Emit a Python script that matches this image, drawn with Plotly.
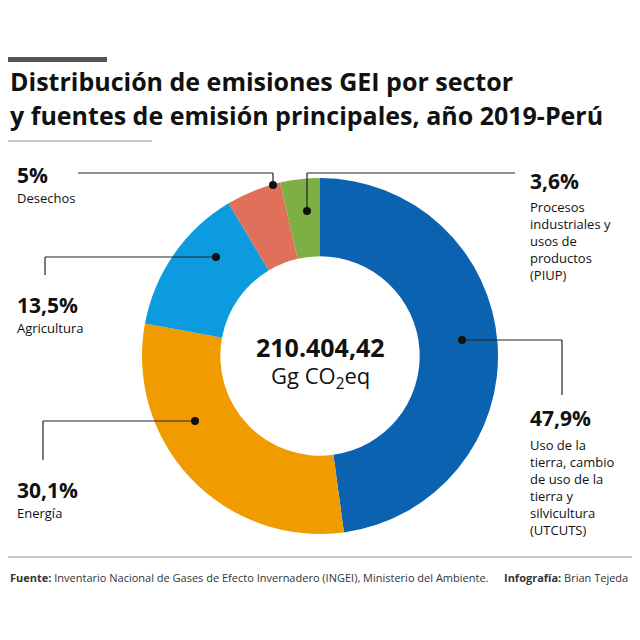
import plotly.graph_objects as go

sectores = ["UTCUTS", "Energía", "Agricultura", "Desechos", "PIUP"]
porcentajes = [47.9, 30.1, 13.5, 5.0, 3.6]
colores = ["#0a62b0", "#f09c00", "#0d9be0", "#e0705a", "#7eaf45"]
total_txt = "210.404,42"

W = H = 640
OFF = 8  # page body margin offset in the screenshot


def px(x):
    return (x - OFF) / W


def py(y):
    return 1 - (y - OFF) / H


fig = go.Figure(go.Pie(
    labels=sectores, values=porcentajes, hole=0.56, sort=False,
    direction="clockwise", rotation=0,
    marker=dict(colors=colores, line=dict(color="white", width=0)),
    textinfo="none", hoverinfo="label+percent", showlegend=False,
    domain=dict(x=[px(142), px(498)], y=[py(534), py(178)]),
))

shapes = []
line = dict(color="#222", width=1.2)
shapes.append(dict(type="rect", xref="paper", yref="paper", x0=0, x1=px(107),
                   y0=py(62), y1=py(57), fillcolor="#555", line_width=0))
shapes.append(dict(type="line", xref="paper", yref="paper", x0=0, x1=px(152),
                   y0=py(141), y1=py(141), line=dict(color="#999", width=1)))
shapes.append(dict(type="line", xref="paper", yref="paper", x0=0, x1=1,
                   y0=py(557), y1=py(557), line=dict(color="#999", width=1)))

leaders = [
    [(78, 173), (273, 173), (273, 185)],
    [(515, 173), (307, 173), (307, 211)],
    [(45, 275), (45, 257), (216, 257)],
    [(43, 460), (43, 421), (195, 421)],
    [(562, 395), (562, 340), (462, 340)],
]
for pts in leaders:
    for (x0, y0), (x1, y1) in zip(pts[:-1], pts[1:]):
        shapes.append(dict(type="line", xref="paper", yref="paper",
                           x0=px(x0), x1=px(x1), y0=py(y0), y1=py(y1), line=line))
    cx, cy = pts[-1]
    shapes.append(dict(type="circle", xref="paper", yref="paper",
                       x0=px(cx - 4), x1=px(cx + 4), y0=py(cy + 4), y1=py(cy - 4),
                       fillcolor="#111", line_width=0))

F = "Open Sans"
ann = []


def txt(x, y, s, size, bold=False, anchor="left", color="#111", yanchor="middle"):
    ann.append(dict(xref="paper", yref="paper", x=px(x), y=py(y), text=f"<b>{s}</b>" if bold else s,
                    showarrow=False, xanchor=anchor, yanchor=yanchor, align=anchor,
                    font=dict(family=F, size=size, color=color)))


txt(8, 81, "Distribución de emisiones GEI por sector", 25, True)
txt(8, 115, "y fuentes de emisión principales, año 2019-Perú", 25, True)

txt(15, 175, "5%", 21, True)
txt(15, 198, "Desechos", 13)
txt(528, 181, "3,6%", 21, True)
txt(528, 196, "Procesos<br>industriales y<br>usos de<br>productos<br>(PIUP)", 13, yanchor="top")
txt(15, 305, "13,5%", 21, True)
txt(15, 328, "Agricultura", 13)
txt(15, 490, "30,1%", 21, True)
txt(15, 513, "Energía", 13)
txt(528, 418, "47,9%", 21, True)
txt(528, 434, "Uso de la<br>tierra, cambio<br>de uso de la<br>tierra y<br>silvicultura<br>(UTCUTS)", 13, yanchor="top")

txt(320, 347, total_txt, 25, True, anchor="center")
txt(320, 377, "Gg CO<sub>2</sub>eq", 22, anchor="center")

txt(8, 577, "<b>Fuente:</b> Inventario Nacional de Gases de Efecto Invernadero (INGEI), Ministerio del Ambiente.", 11, color="#333")
txt(630, 577, "<b>Infografía:</b> Brian Tejeda", 11, anchor="right", color="#333")

fig.update_layout(width=W, height=H, margin=dict(l=0, r=0, t=0, b=0),
                  paper_bgcolor="white", plot_bgcolor="white",
                  shapes=shapes, annotations=ann)
fig.write_html("out.html")
